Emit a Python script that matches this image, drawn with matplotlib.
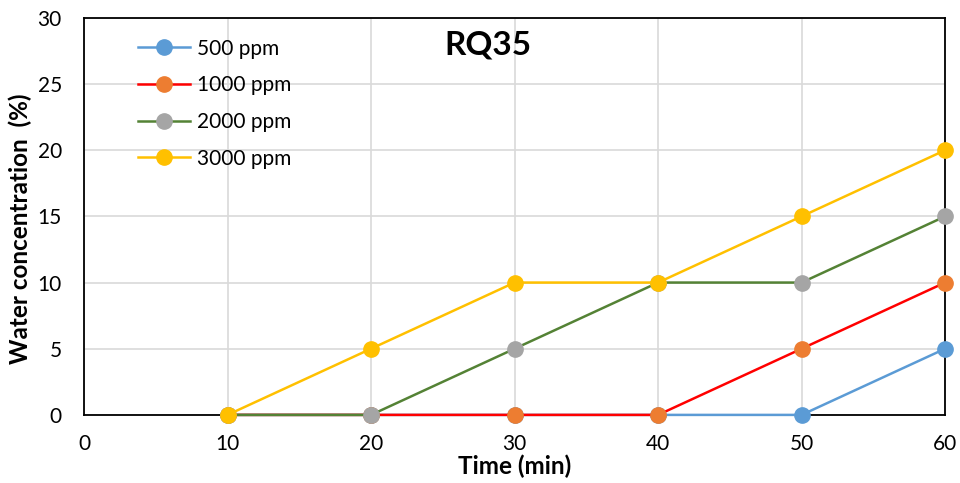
import matplotlib
matplotlib.use("Agg")
import matplotlib.pyplot as plt

plt.rcParams['font.family'] = ['Lato', 'DejaVu Sans']

time = [10, 20, 30, 40, 50, 60]
labels = ['500 ppm', '1000 ppm', '2000 ppm', '3000 ppm']
s500 = [0, 0, 0, 0, 0, 5]
s1000 = [0, 0, 0, 0, 5, 10]
s2000 = [0, 0, 5, 10, 10, 15]
s3000 = [0, 5, 10, 10, 15, 20]
series = [s500, s1000, s2000, s3000]
line_colors = ['#5B9BD5', '#FF0000', '#548235', '#FFC000']
marker_colors = ['#5B9BD5', '#ED7D31', '#A5A5A5', '#FFC000']

fig = plt.figure(figsize=(9.6, 4.83), dpi=100)
ax = fig.add_axes([0.0875, 0.141, 0.897, 0.822])

for vals, lab, lc, mc in zip(series, labels, line_colors, marker_colors):
    ax.plot(time, vals, color=lc, lw=1.8, marker='o', markersize=11,
            markerfacecolor=mc, markeredgecolor=mc, label=lab, clip_on=False, zorder=3)

ax.set_xlim(0, 60)
ax.set_ylim(0, 30)
ax.set_xticks(range(0, 61, 10))
ax.set_yticks(range(0, 31, 5))
ax.grid(True, color='#D9D9D9', lw=1.2)
ax.set_axisbelow(True)
for sp in ax.spines.values():
    sp.set_color('black')
    sp.set_linewidth(1.3)
ax.tick_params(length=0, labelsize=15)
ax.tick_params(axis='x', pad=14)
ax.tick_params(axis='y', pad=16)
ax.set_xlabel('Time (min)', fontsize=17.5, fontweight='bold', labelpad=0)
ax.set_ylabel('Water concentration  (%)', fontsize=17.5, fontweight='bold',
              va='center')
ax.yaxis.set_label_coords(-0.074, 0.47)
ax.text(0.469, 0.932, 'RQ35', transform=ax.transAxes, ha='center', va='center',
        fontsize=24, fontweight='bold')

leg = ax.legend(loc='upper left', bbox_to_anchor=(0.041, 0.995), frameon=False,
                fontsize=15, handlelength=2.5, labelspacing=0.8, handletextpad=0.33)

fig.savefig('out.png', dpi=100)
